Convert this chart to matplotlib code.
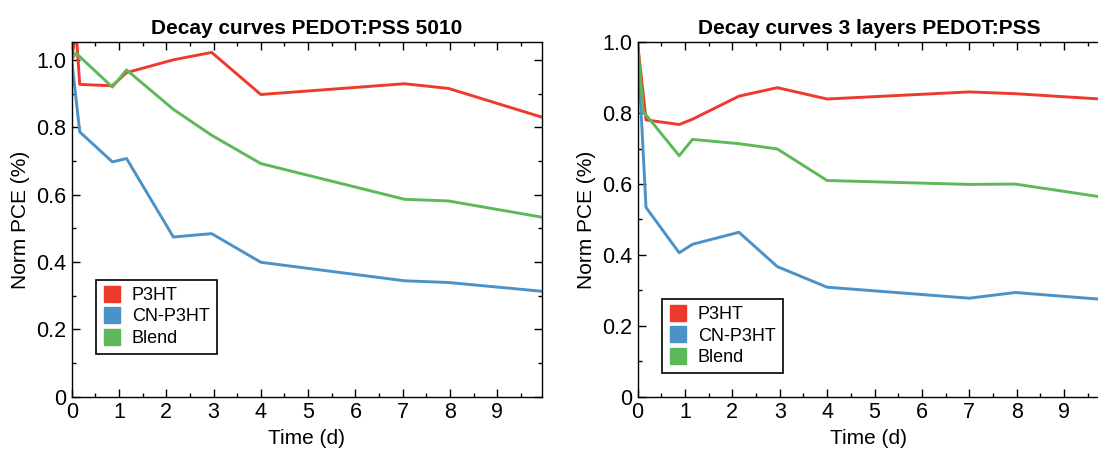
import matplotlib
matplotlib.use("Agg")
import matplotlib.pyplot as plt
from matplotlib.lines import Line2D
from matplotlib.ticker import MultipleLocator, FuncFormatter

plt.rcParams['font.family'] = ['Liberation Sans', 'DejaVu Sans']

# ---- data: left panel (PEDOT:PSS 5010) ----
l_p3ht_x = [0, 0.09, 0.17, 0.86, 1.16, 2.15, 2.96, 4.0, 7.04, 7.97, 9.94]
l_p3ht_y = [1.0, 1.09, 0.927, 0.923, 0.962, 1.0, 1.022, 0.897, 0.929, 0.915, 0.83]
l_cn_x = [0, 0.17, 0.86, 1.16, 2.15, 2.96, 4.0, 7.04, 7.97, 9.94]
l_cn_y = [1.0, 0.786, 0.697, 0.707, 0.474, 0.484, 0.399, 0.344, 0.339, 0.313]
l_bl_x = [0, 0.09, 0.86, 1.16, 2.15, 2.96, 4.0, 7.04, 7.97, 9.94]
l_bl_y = [1.0, 1.02, 0.919, 0.970, 0.853, 0.776, 0.692, 0.586, 0.581, 0.533]

# ---- data: right panel (3 layers PEDOT:PSS) ----
r_x = [0, 0.18, 0.88, 1.16, 2.14, 2.95, 4.0, 7.0, 7.97, 9.76]
r_p3ht_y = [1.0, 0.781, 0.768, 0.783, 0.848, 0.872, 0.840, 0.860, 0.855, 0.840]
r_cn_y = [1.0, 0.534, 0.406, 0.430, 0.464, 0.367, 0.309, 0.278, 0.294, 0.275]
r_bl_x = [0, 0.12, 0.88, 1.16, 2.14, 2.95, 4.0, 7.0, 7.97, 9.76]
r_bl_y = [1.0, 0.805, 0.680, 0.726, 0.714, 0.699, 0.610, 0.599, 0.600, 0.564]

labels = ["P3HT", "CN-P3HT", "Blend"]
colors = ["#EE3A2C", "#4A92C8", "#5DB85A"]
titles = ["Decay curves PEDOT:PSS 5010", "Decay curves 3 layers PEDOT:PSS"]
xticks = list(range(10))

W, H = 1098, 451
fig = plt.figure(figsize=(W / 100, H / 100), dpi=100)
ax1 = fig.add_axes([71.7 / W, (H - 396.7) / H, 470 / W, 354.4 / H])
ax2 = fig.add_axes([637.5 / W, (H - 396.7) / H, 463 / W, 354.4 / H])

lw = 2.1
ax1.plot(l_p3ht_x, l_p3ht_y, color=colors[0], lw=lw)
ax1.plot(l_cn_x, l_cn_y, color=colors[1], lw=lw)
ax1.plot(l_bl_x, l_bl_y, color=colors[2], lw=lw)
ax1.set_xlim(0, 9.94)
ax1.set_ylim(0, 1.052)

ax2.plot(r_x, r_p3ht_y, color=colors[0], lw=lw)
ax2.plot(r_x, r_cn_y, color=colors[1], lw=lw)
ax2.plot(r_bl_x, r_bl_y, color=colors[2], lw=lw)
ax2.set_xlim(0, 463 / 47.4)
ax2.set_ylim(0, 1.0)

fmt = FuncFormatter(lambda v, p: "0" if abs(v) < 1e-9 else f"{v:.1f}")

for ax, title, leg_xy, right in [(ax1, titles[0], (0.051, 0.12), True),
                                 (ax2, titles[1], (0.052, 0.066), False)]:
    ax.set_title(title, fontsize=15, fontweight='bold', pad=6)
    ax.set_xlabel("Time (d)", fontsize=15, labelpad=4)
    ax.set_ylabel("Norm PCE (%)", fontsize=15, labelpad=4)
    ax.set_xticks(xticks)
    ax.xaxis.set_minor_locator(MultipleLocator(0.5))
    ax.yaxis.set_major_locator(MultipleLocator(0.2))
    ax.yaxis.set_minor_locator(MultipleLocator(0.1))
    ax.yaxis.set_major_formatter(fmt)
    ax.tick_params(which='both', direction='in', top=True, right=right, labelsize=15.5, width=1.0)
    ax.tick_params(which='major', length=5.5, pad=4)
    ax.tick_params(which='minor', length=3)
    for s in ax.spines.values():
        s.set_linewidth(1.0)
    handles = [Line2D([], [], marker='s', ls='none', markersize=11, markerfacecolor=c,
                      markeredgecolor=c) for c in colors]
    leg = ax.legend(handles, labels, loc='lower left', bbox_to_anchor=leg_xy, fontsize=13,
                    fancybox=False, framealpha=1, edgecolor='black', borderpad=0.4,
                    handlelength=1.0, handletextpad=0.6, labelspacing=0.25, borderaxespad=0)
    leg.get_frame().set_linewidth(1.2)

fig.savefig("out.png", dpi=100)
